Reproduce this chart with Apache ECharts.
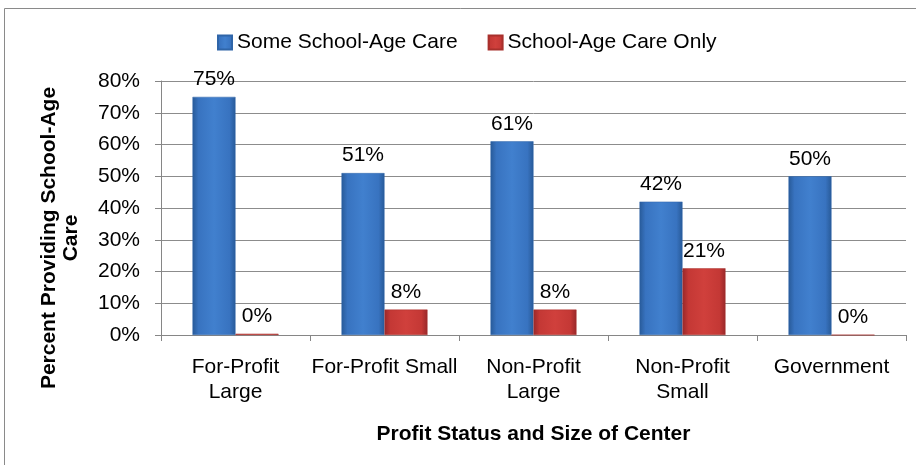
<!DOCTYPE html>
<html>
<head>
<meta charset="utf-8">
<style>
  html, body { margin: 0; padding: 0; background: #ffffff; }
  #chart { width: 916px; height: 465px; }
</style>
<script src="https://cdn.jsdelivr.net/npm/echarts@6/dist/echarts.min.js"></script>
</head>
<body>
<div id="chart"></div>
<script>
// Share of centers providing school-age care, by profit status and size
const categories = ['For-Profit\nLarge', 'For-Profit Small', 'Non-Profit\nLarge', 'Non-Profit\nSmall', 'Government'];
const someSchoolAge = [75, 51, 61, 42, 50];
const schoolAgeOnly = [0.4, 8, 8, 21, 0];
const yTicks = [0, 10, 20, 30, 40, 50, 60, 70, 80];

const FONT = '"Liberation Sans", Arial, Helvetica, sans-serif';

function bevel(edge, mid, light) {
  return new echarts.graphic.LinearGradient(0, 0, 1, 0, [
    { offset: 0, color: edge },
    { offset: 0.14, color: mid },
    { offset: 0.5, color: light },
    { offset: 0.86, color: mid },
    { offset: 1, color: edge }
  ]);
}

const blueFill = bevel('#285a98', '#3873c0', '#4180ce');
const redFill = bevel('#98282a', '#c43835', '#d0403c');

const chart = echarts.init(document.getElementById('chart'), null, { renderer: 'canvas' });

const labelCfg = {
  show: true,
  position: 'top',
  distance: 7,
  color: '#000',
  fontFamily: FONT,
  fontSize: 21,
  formatter: p => Math.round(p.value) + '%'
};

chart.setOption({
  animation: false,
  backgroundColor: '#ffffff',
  textStyle: { fontFamily: FONT },
  graphic: [
    {
      type: 'rect',
      shape: { x: 4.5, y: 8.5, width: 1000, height: 1000 },
      style: { fill: 'none', stroke: '#8a8a8a', lineWidth: 1 },
      silent: true
    },
    {
      type: 'text',
      x: 60,
      y: 238,
      rotation: Math.PI / 2,
      style: {
        text: 'Percent Providing School-Age\nCare',
        fontFamily: FONT,
        fontSize: 21,
        fontWeight: 'bold',
        lineHeight: 22,
        fill: '#000',
        align: 'center',
        verticalAlign: 'middle'
      }
    }
  ],
  legend: {
    top: 27,
    left: 212,
    itemWidth: 14,
    itemHeight: 14,
    itemGap: 30,
    icon: 'rect',
    textStyle: { fontFamily: FONT, fontSize: 21, color: '#000' },
    data: ['Some School-Age Care', 'School-Age Care Only']
  },
  grid: { left: 161, right: 10, top: 81, bottom: 130, containLabel: false },
  xAxis: {
    type: 'category',
    data: categories,
    name: 'Profit Status and Size of Center',
    nameLocation: 'middle',
    nameGap: 89,
    nameTextStyle: { fontFamily: FONT, fontSize: 21, fontWeight: 'bold', color: '#000' },
    axisLine: { lineStyle: { color: '#868686', width: 1 } },
    axisTick: { show: true, length: 6, alignWithLabel: false, lineStyle: { color: '#868686' } },
    axisLabel: { fontFamily: FONT, fontSize: 21, color: '#000', margin: 20, lineHeight: 25, interval: 0 }
  },
  yAxis: {
    type: 'value',
    min: 0,
    max: 80,
    interval: 10,
    axisLine: { show: true, lineStyle: { color: '#868686', width: 1 } },
    axisTick: { show: true, length: 6, lineStyle: { color: '#868686' } },
    splitLine: { show: true, lineStyle: { color: '#8c8c8c', width: 1 } },
    axisLabel: {
      fontFamily: FONT,
      fontSize: 21,
      color: '#000',
      margin: 21,
      formatter: v => (yTicks.includes(v) ? v + '%' : '')
    }
  },
  series: [
    {
      name: 'Some School-Age Care',
      type: 'bar',
      data: someSchoolAge,
      barWidth: 43,
      barGap: '0%',
      itemStyle: { color: blueFill, borderColor: '#2f65a8', borderWidth: 0.5 },
      label: labelCfg
    },
    {
      name: 'School-Age Care Only',
      type: 'bar',
      data: schoolAgeOnly,
      barWidth: 43,
      barGap: '0%',
      itemStyle: { color: redFill, borderColor: '#a8302c', borderWidth: 0.5 },
      label: labelCfg
    }
  ]
});
</script>
</body>
</html>
